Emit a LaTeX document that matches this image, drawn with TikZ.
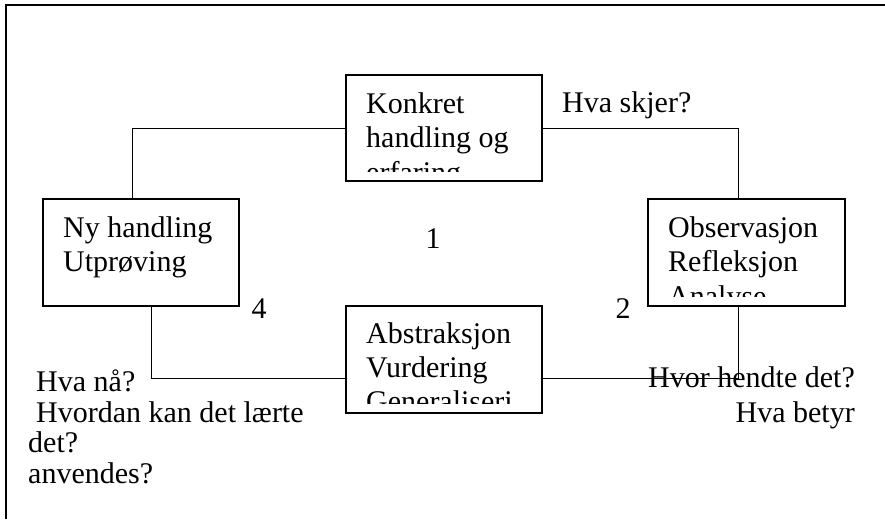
\documentclass[tikz,border=0pt]{standalone}
\usepackage{fontspec}
\setmainfont{Liberation Serif}
\begin{document}
\begin{tikzpicture}[x=1pt,y=-1pt,
  box/.style={draw, line width=1.3pt, rectangle, inner sep=0pt, outer sep=0pt, anchor=north west},
  txt/.style={anchor=base west, inner sep=0pt, font=\fontsize{30}{34.5}\selectfont},
  rtxt/.style={anchor=base east, inner sep=0pt, font=\fontsize{30}{34.5}\selectfont},
  ctxt/.style={anchor=base, inner sep=0pt, font=\fontsize{30}{34.5}\selectfont},
  conn/.style={line width=1pt}]
\useasboundingbox (0,0) rectangle (885,519);
\draw[line width=1.6pt] (6,519) -- (6,5) -- (880,5);
\draw[line width=1.6pt] (878,5) -- (885,5);

% boxes
\node[box, minimum width=196pt, minimum height=106pt] (k) at (346,75) {};
\node[box, minimum width=196pt, minimum height=107pt] (ny) at (43,199) {};
\node[box, minimum width=197pt, minimum height=107pt] (obs) at (648,199) {};
\node[box, minimum width=196pt, minimum height=107pt] (ab) at (346,306) {};

% box texts
\node[txt] (k1) at (366,113) {Konkret};
\node[txt] (k2) at (366,147.5) {handling og};
\begin{scope}
\clip (346,75) rectangle (542,171);
\node[txt] (k3) at (366,182) {erfaring};
\end{scope}

\node[txt] (n1) at (63,237) {Ny handling};
\node[txt] (n2) at (63,271) {Utprøving};

\node[txt] (o1) at (668,237) {Observasjon};
\node[txt] (o2) at (668,271.5) {Refleksjon};
\begin{scope}
\clip (648,199) rectangle (845,296);
\node[txt] (o3) at (668,306) {Analyse};
\end{scope}

\node[txt] (a1) at (366,343) {Abstraksjon};
\node[txt] (a2) at (366,377) {Vurdering};
\begin{scope}
\clip (346,306) rectangle (542,403);
\node[txt] (a3) at (366,411.5) {Generaliseri};
\end{scope}

% free labels
\node[txt] (q1) at (562,112) {Hva skjer?};
\node[ctxt] (c1) at (433,248) {1};
\node[ctxt] (c4) at (259,318) {4};
\node[ctxt] (c2) at (623,318) {2};
\node[rtxt] (r1) at (855,387) {Hvor hendte det?};
\node[rtxt] (r2) at (855,422) {Hva betyr};
\node[txt] (l1) at (36,391) {Hva nå?};
\node[txt] (l2) at (36,422) {Hvordan kan det lærte};
\node[txt] (l3) at (28,452) {det?};
\node[txt] (l4) at (28,483) {anvendes?};

% connectors
\draw[conn] (k.west) -| ([xshift=-9pt]ny.north);
\draw[conn] (k.east) -| ([xshift=-8.5pt]obs.north);
\draw[conn] ([xshift=10pt]ny.south) |- ([yshift=-18.5pt]ab.west);
\draw[conn] ([yshift=-18.5pt]ab.east) -| ([xshift=-8.5pt]obs.south);
\end{tikzpicture}
\end{document}
